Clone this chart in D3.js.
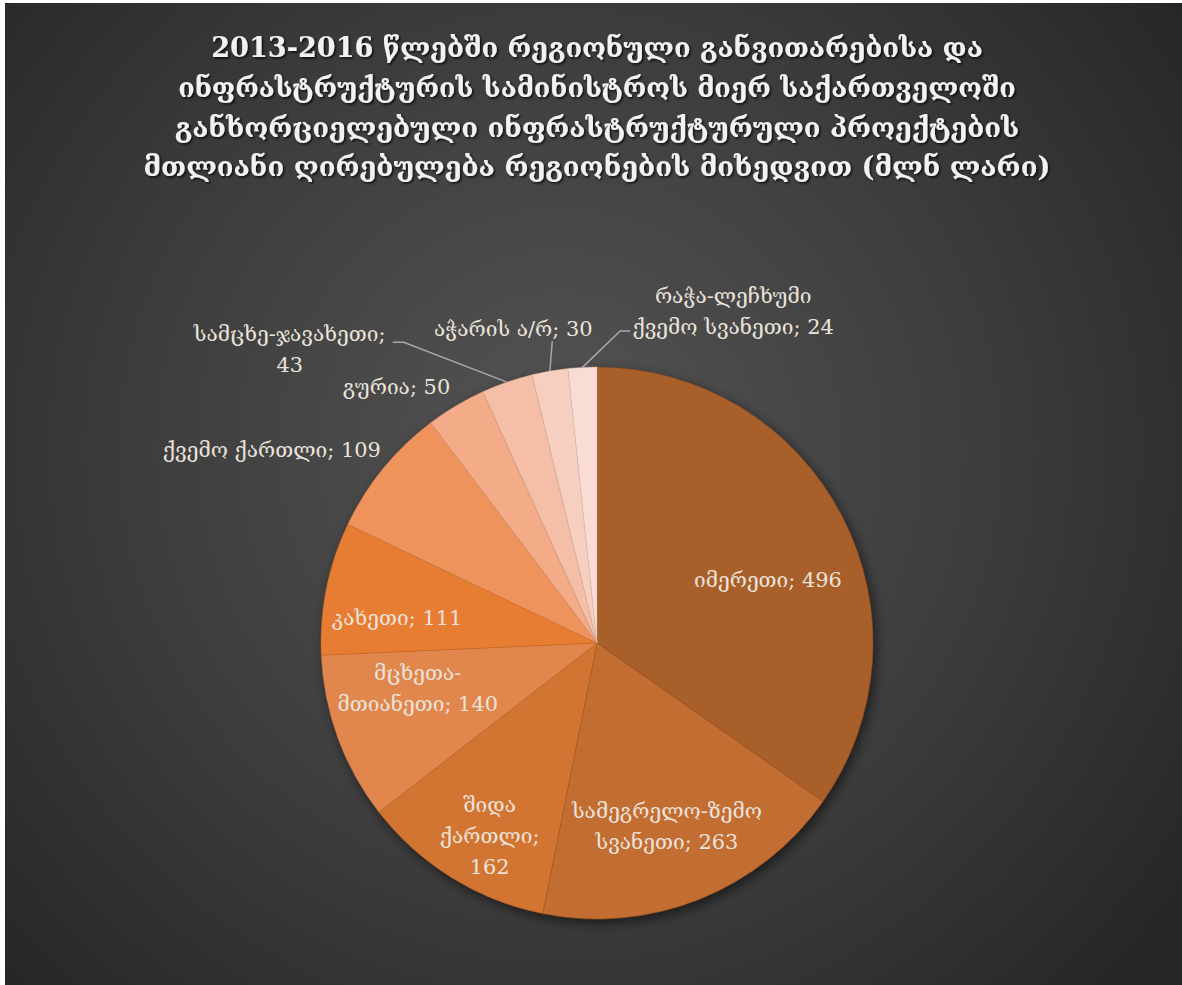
<!DOCTYPE html>
<html>
<head>
<meta charset="utf-8">
<script src="https://cdn.jsdelivr.net/npm/d3@7"></script>
<style>
  html, body { margin: 0; padding: 0; background: #ffffff; }
  svg { display: block; }
</style>
</head>
<body>
<svg id="chart" width="1182" height="985"></svg>
<script>
// ---------------- data ----------------
const titleLines = [
  "2013-2016 წლებში რეგიონული განვითარებისა და",
  "ინფრასტრუქტურის სამინისტროს მიერ საქართველოში",
  "განხორციელებული ინფრასტრუქტურული პროექტების",
  "მთლიანი ღირებულება რეგიონების მიხედვით (მლნ ლარი)"
];
const categories = [
  "იმერეთი",
  "სამეგრელო-ზემო სვანეთი",
  "შიდა ქართლი",
  "მცხეთა-მთიანეთი",
  "კახეთი",
  "ქვემო ქართლი",
  "გურია",
  "სამცხე-ჯავახეთი",
  "აჭარის ა/რ",
  "რაჭა-ლეჩხუმი ქვემო სვანეთი"
];
const values = [496, 263, 162, 140, 111, 109, 50, 43, 30, 24];
// label text lines as displayed in the chart
const labelLines = [
  ["იმერეთი; 496"],
  ["სამეგრელო-ზემო", "სვანეთი; 263"],
  ["შიდა", "ქართლი;", "162"],
  ["მცხეთა-", "მთიანეთი; 140"],
  ["კახეთი; 111"],
  ["ქვემო ქართლი; 109"],
  ["გურია; 50"],
  ["სამცხე-ჯავახეთი;", "43"],
  ["აჭარის ა/რ; 30"],
  ["რაჭა-ლეჩხუმი", "ქვემო სვანეთი; 24"]
];

// ---------------- styles / layout ----------------
const W = 1182, H = 985;
const colors = ["#a0501a", "#bd601f", "#cf681e", "#de7c3e", "#e5721e",
                "#ee8a4e", "#f2a47e", "#f3b89f", "#f6cbbb", "#f8d9cf"];
const cx = 597, cy = 643, R = 276;
// label placement: [radius factor, angle in degrees clockwise from 12 o'clock]
const labelPlace = [
  [0.66, 69.8], [0.71, 159.1], [0.80, 209.1], [0.67, 255.8], [0.73, 277.1],
  [1.37, 300.7], [1.18, 322.0], [1.54, 313.7], [1.18, 345.1], [1.30, 22.3]
];
// leader lines for outside labels: elbow & end offsets relative to the label anchor
const leaders = {
  7: [[114, -7], [103, -7]],
  8: [[39, 13], [39, 13]],
  9: [[-113, 20], [-103, 20]]
};

const svg = d3.select("#chart");
const defs = svg.append("defs");

// background
const bg = defs.append("radialGradient").attr("id", "bgGrad")
  .attr("gradientUnits", "userSpaceOnUse")
  .attr("cx", 560).attr("cy", 450).attr("r", 760);
bg.append("stop").attr("offset", "0%").attr("stop-color", "#545454");
bg.append("stop").attr("offset", "55%").attr("stop-color", "#3d3d3d");
bg.append("stop").attr("offset", "100%").attr("stop-color", "#272727");

svg.append("rect").attr("x", 5).attr("y", 3).attr("width", W - 5).attr("height", H - 3)
  .attr("fill", "url(#bgGrad)");

// filters
const sh = defs.append("filter").attr("id", "pieShadow")
  .attr("x", "-20%").attr("y", "-20%").attr("width", "140%").attr("height", "140%");
sh.append("feDropShadow").attr("dx", 3).attr("dy", 4).attr("stdDeviation", 6)
  .attr("flood-color", "#000").attr("flood-opacity", 0.55);

const tsh = defs.append("filter").attr("id", "textShadow")
  .attr("x", "-10%").attr("y", "-30%").attr("width", "120%").attr("height", "160%");
tsh.append("feDropShadow").attr("dx", 1.5).attr("dy", 1.5).attr("stdDeviation", 1.2)
  .attr("flood-color", "#000").attr("flood-opacity", 0.8);

// slice gradients (lighter at top, darker at bottom)
colors.forEach((c, i) => {
  const g = defs.append("linearGradient").attr("id", "sg" + i)
    .attr("gradientUnits", "userSpaceOnUse")
    .attr("x1", cx).attr("y1", cy - R).attr("x2", cx).attr("y2", cy + R);
  g.append("stop").attr("offset", "0%").attr("stop-color", d3.interpolateRgb(c, "#ffffff")(0.08));
  g.append("stop").attr("offset", "100%").attr("stop-color", d3.interpolateRgb(c, "#000000")(0.05));
});

// ---------------- title ----------------
const fontFam = "'DejaVu Serif', 'DejaVu Sans', serif";
const titleWidths = [772, 838, 845, 907];
const titleY = [57, 97, 137, 176];
const tg = svg.append("g").attr("filter", "url(#textShadow)");
titleLines.forEach((t, i) => {
  const tx = tg.append("text")
    .attr("x", cx).attr("y", titleY[i])
    .attr("text-anchor", "middle")
    .attr("font-family", fontFam)
    .attr("font-weight", "bold")
    .attr("font-size", 26)
    .attr("fill", "#f2f2f2")
    .text(t);
  const w = tx.node().getComputedTextLength();
  tx.attr("font-size", 26 * titleWidths[i] / w);
});

// ---------------- pie ----------------
const pie = d3.pie().sort(null).value(d => d)(values);
const arc = d3.arc().innerRadius(0).outerRadius(R);

const pg = svg.append("g").attr("transform", `translate(${cx},${cy})`);
pg.append("g").attr("filter", "url(#pieShadow)")
  .selectAll("path").data(pie).join("path")
  .attr("d", arc)
  .attr("fill", (d, i) => `url(#sg${i})`)
  .attr("stroke", (d, i) => d3.interpolateRgb(colors[i], "#000")(0.15))
  .attr("stroke-opacity", 0.5)
  .attr("stroke-width", 0.8);

// ---------------- labels ----------------
const labelColor = "#ebe3db";
const polar = (rf, deg) => {
  const a = deg * Math.PI / 180;
  return [cx + rf * R * Math.sin(a), cy - rf * R * Math.cos(a)];
};
const lg = svg.append("g");
// size calibration: "იმერეთი; 496" should be ~148px wide
const probe = lg.append("text").attr("font-family", fontFam).attr("font-size", 20).text(labelLines[0][0]);
const fs = 20 * 148 / probe.node().getComputedTextLength();
probe.remove();
const lineH = 31;

pie.forEach((d, i) => {
  const [lx, ly] = polar(labelPlace[i][0], labelPlace[i][1]);
  const lines = labelLines[i];
  const t = lg.append("text")
    .attr("font-family", fontFam)
    .attr("font-size", fs)
    .attr("fill", labelColor)
    .attr("text-anchor", "middle");
  const y0 = ly - (lines.length - 1) * lineH / 2;
  lines.forEach((ln, k) => {
    t.append("tspan").attr("x", lx).attr("y", y0 + k * lineH).attr("dy", "0.35em").text(ln);
  });
  if (leaders[i]) {
    const mid = (d.startAngle + d.endAngle) / 2;
    const p0 = [cx + R * Math.sin(mid), cy - R * Math.cos(mid)];
    const [e, f] = leaders[i];
    const pts = [p0, [lx + e[0], ly + e[1]], [lx + f[0], ly + f[1]]];
    lg.append("path")
      .attr("d", d3.line()(pts))
      .attr("fill", "none")
      .attr("stroke", "#a8a8a8")
      .attr("stroke-width", 1.5);
  }
});
</script>
</body>
</html>
